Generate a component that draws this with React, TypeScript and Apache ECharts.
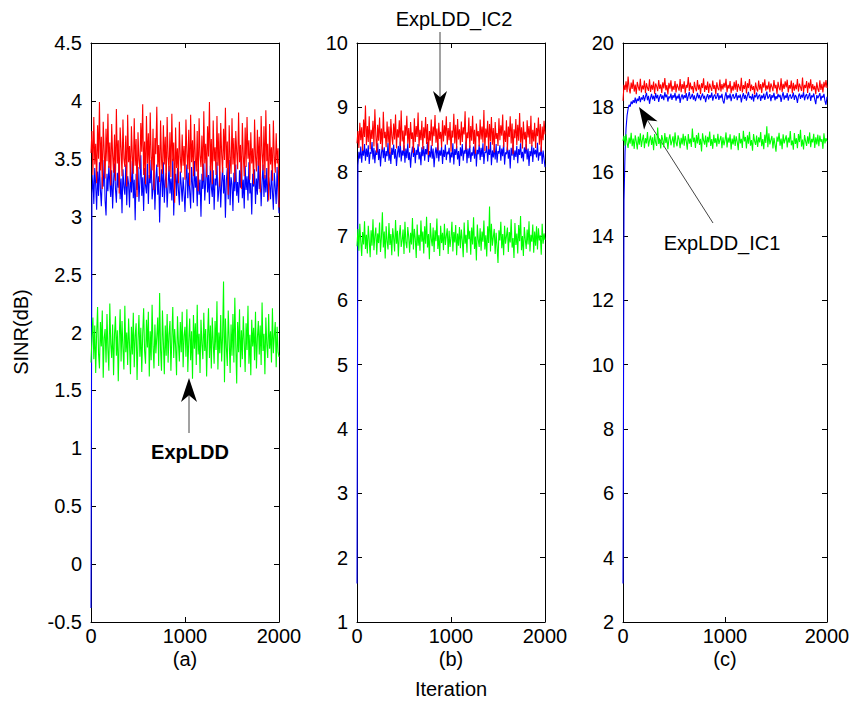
import React, { useEffect, useRef } from 'react';
import * as echarts from 'echarts';

// sampling grid of iterations (every 10 iterations, 0..2000)
const iterations: number[] = Array.from({ length: 201 }, (_, i) => i * 10);

const aBlue = [-0.38,
  3.20, 3.36, 3.11, 3.42, 3.27, 3.06, 3.39, 3.18, 3.47, 3.23,
  3.09, 3.34, 3.26, 3.49, 3.14, 3.01, 3.37, 3.22, 3.44, 3.29,
  3.17, 3.40, 3.07, 3.30, 3.46, 3.24, 3.12, 3.38, 3.25, 3.51,
  3.15, 3.33, 3.03, 3.41, 3.26, 3.19, 3.45, 3.10, 3.35, 3.28,
  3.08, 3.39, 3.21, 3.48, 3.16, 3.32, 2.97, 3.37, 3.23, 3.43,
  3.13, 3.30, 3.53, 3.18, 3.34, 3.05, 3.42, 3.27, 3.20, 3.46,
  3.11, 3.36, 3.29, 3.49, 3.15, 3.24, 3.40, 3.06, 3.32, 3.45,
  3.19, 3.35, 2.95, 3.28, 3.41, 3.17, 3.47, 3.12, 3.31, 3.38,
  3.08, 3.26, 3.44, 3.20, 3.33, 3.14, 3.50, 3.01, 3.29, 3.37,
  3.18, 3.42, 3.23, 3.10, 3.39, 3.27, 3.13, 3.34, 3.21, 3.04,
  3.31, 3.45, 3.16, 3.38, 3.22, 3.07, 3.43, 3.28, 3.12, 3.48,
  3.25, 3.35, 3.09, 3.41, 3.19, 3.32, 3.00, 3.37, 3.24, 3.46,
  3.14, 3.30, 3.51, 3.21, 3.36, 3.11, 3.44, 3.26, 3.17, 3.40,
  3.06, 3.33, 3.27, 3.47, 3.13, 3.23, 3.39, 3.08, 3.29, 3.43,
  3.20, 3.36, 2.99, 3.31, 3.42, 3.15, 3.49, 3.10, 3.34, 3.28,
  3.05, 3.38, 3.22, 3.45, 3.18, 3.30, 3.12, 3.40, 3.25, 3.52,
  3.16, 3.32, 3.07, 3.44, 3.23, 3.35, 3.14, 3.47, 3.20, 3.29,
  3.02, 3.37, 3.26, 3.41, 3.11, 3.33, 3.19, 3.48, 3.24, 3.39,
  3.09, 3.30, 3.45, 3.17, 3.36, 3.21, 3.42, 3.13, 3.34, 3.27,
  3.15, 3.40, 3.22, 3.06, 3.38, 3.25, 3.11, 3.43, 3.19, 3.03];
const aRed = [3.55, 3.74, 3.36, 3.86, 3.45, 3.63, 3.29, 3.79, 3.50, 3.99,
  3.40, 3.69, 3.24, 3.82, 3.57, 3.33, 3.76, 3.48, 3.89, 3.42,
  3.64, 3.27, 3.80, 3.53, 3.38, 3.71, 3.31, 3.93, 3.46, 3.66,
  3.20, 3.77, 3.59, 3.35, 3.84, 3.50, 3.43, 3.70, 3.26, 3.88,
  3.47, 3.61, 3.30, 3.78, 3.52, 3.37, 3.85, 3.44, 3.67, 3.17,
  3.73, 3.49, 3.41, 3.81, 3.56, 3.97, 3.36, 3.65, 3.28, 3.87,
  3.46, 3.72, 3.33, 3.90, 3.51, 3.40, 3.76, 3.23, 3.68, 3.54,
  3.95, 3.43, 3.62, 3.30, 3.83, 3.49, 3.37, 3.79, 3.45, 3.69,
  3.25, 3.86, 3.52, 3.39, 3.73, 3.34, 3.89, 3.48, 3.64, 3.12,
  3.77, 3.42, 3.59, 3.29, 3.82, 3.51, 3.38, 3.71, 3.44, 3.61,
  3.32, 3.84, 3.55, 3.41, 3.75, 3.27, 3.88, 3.47, 3.66, 3.35,
  3.80, 3.50, 3.39, 3.74, 3.22, 3.85, 3.53, 3.43, 3.70, 3.31,
  3.91, 3.46, 3.63, 3.34, 3.78, 3.52, 3.99, 3.40, 3.67, 3.28,
  3.83, 3.48, 3.60, 3.36, 3.87, 3.44, 3.72, 3.26, 3.81, 3.54,
  3.38, 3.76, 3.49, 3.94, 3.42, 3.65, 3.19, 3.79, 3.51, 3.37,
  3.85, 3.45, 3.68, 3.30, 3.74, 3.56, 3.41, 3.90, 3.47, 3.62,
  3.24, 3.81, 3.53, 3.35, 3.77, 3.43, 3.86, 3.50, 3.66, 3.32,
  3.73, 3.46, 3.59, 3.28, 3.84, 3.52, 3.39, 3.75, 3.44, 3.69,
  3.21, 3.87, 3.55, 3.40, 3.78, 3.33, 3.92, 3.48, 3.63, 3.14,
  3.80, 3.45, 3.60, 3.31, 3.83, 3.51, 3.38, 3.72, 3.46, 3.59, 3.08];
const aGreen = [1.74, 1.96, 2.13, 1.77, 2.06, 1.65, 1.99, 2.22, 1.82, 1.69,
  2.09, 1.88, 2.19, 1.61, 1.95, 2.03, 1.74, 2.16, 1.85, 1.67,
  2.25, 1.90, 1.78, 2.07, 1.63, 1.98, 2.14, 1.80, 2.02, 1.58,
  1.94, 2.20, 1.75, 2.10, 1.86, 1.68, 2.23, 1.83, 2.00, 1.72,
  2.12, 1.89, 1.64, 2.05, 1.81, 2.17, 1.70, 1.97, 2.08, 1.59,
  1.93, 2.15, 1.79, 2.04, 1.66, 1.99, 2.21, 1.84, 1.73, 2.11,
  1.87, 2.18, 1.62, 2.01, 1.76, 2.24, 1.88, 1.69, 2.07, 1.82,
  1.96, 2.13, 1.71, 2.34, 1.85, 1.67, 2.19, 1.92, 1.64, 2.06,
  1.80, 2.16, 1.74, 1.98, 2.10, 1.67, 1.95, 2.22, 1.78, 2.03,
  1.88, 1.63, 2.14, 1.91, 1.75, 2.09, 1.83, 2.18, 1.70, 1.97,
  2.05, 1.79, 2.20, 1.66, 1.93, 2.12, 1.76, 2.01, 1.60, 2.15,
  1.86, 2.08, 1.72, 2.24, 1.81, 1.99, 1.65, 2.11, 1.90, 1.77,
  2.17, 1.84, 2.03, 1.62, 1.96, 2.21, 1.78, 2.06, 1.69, 2.13,
  1.91, 1.73, 2.10, 1.85, 2.27, 1.68, 2.00, 1.82, 2.15, 1.75,
  1.97, 2.44, 1.57, 2.12, 1.87, 1.71, 2.19, 1.94, 1.65, 2.07,
  1.80, 2.16, 1.74, 2.30, 1.89, 1.56, 2.09, 1.83, 2.20, 1.70,
  2.02, 1.77, 2.14, 1.92, 1.66, 2.08, 1.85, 2.23, 1.73, 1.98,
  1.63, 2.11, 1.88, 2.04, 1.76, 2.18, 1.69, 1.95, 2.10, 1.81,
  2.06, 1.72, 2.26, 1.84, 1.99, 1.64, 2.13, 1.90, 1.78, 2.16,
  1.86, 2.01, 1.74, 2.21, 1.82, 1.97, 2.09, 1.70, 2.05, 1.83, 1.79];

const bBlue = [1.60,
  8.10, 8.31, 8.20, 8.39, 8.14, 8.34, 8.25, 8.43, 8.17, 8.36,
  8.23, 8.41, 8.12, 8.30, 8.28, 8.46, 8.19, 8.37, 8.13, 8.33,
  8.26, 8.44, 8.18, 8.35, 8.08, 8.29, 8.40, 8.21, 8.38, 8.15,
  8.32, 8.24, 8.45, 8.17, 8.31, 8.12, 8.37, 8.26, 8.42, 8.20,
  8.35, 8.09, 8.27, 8.40, 8.22, 8.47, 8.16, 8.33, 8.25, 8.41,
  8.14, 8.36, 8.21, 8.44, 8.18, 8.30, 8.06, 8.28, 8.39, 8.23,
  8.37, 8.13, 8.34, 8.26, 8.43, 8.19, 8.31, 8.10, 8.38, 8.24,
  8.40, 8.17, 8.35, 8.27, 8.46, 8.15, 8.32, 8.22, 8.41, 8.20,
  8.36, 8.07, 8.28, 8.38, 8.21, 8.45, 8.16, 8.33, 8.25, 8.39,
  8.12, 8.34, 8.23, 8.42, 8.18, 8.31, 8.27, 8.37, 8.14, 8.30,
  8.22, 8.44, 8.11, 8.35, 8.26, 8.40, 8.19, 8.32, 8.09, 8.38,
  8.24, 8.43, 8.17, 8.33, 8.28, 8.47, 8.13, 8.36, 8.21, 8.41,
  8.15, 8.30, 8.25, 8.39, 8.20, 8.45, 8.08, 8.34, 8.27, 8.42,
  8.18, 8.37, 8.23, 8.44, 8.12, 8.31, 8.29, 8.40, 8.16, 8.35,
  8.26, 8.46, 8.10, 8.33, 8.22, 8.38, 8.19, 8.43, 8.14, 8.32,
  8.28, 8.41, 8.17, 8.36, 8.24, 8.45, 8.11, 8.30, 8.27, 8.39,
  8.20, 8.34, 8.05, 8.37, 8.25, 8.42, 8.18, 8.33, 8.23, 8.40,
  8.13, 8.35, 8.26, 8.44, 8.21, 8.31, 8.16, 8.38, 8.28, 8.43,
  8.19, 8.36, 8.09, 8.32, 8.24, 8.41, 8.15, 8.37, 8.27, 8.34,
  8.22, 8.45, 8.17, 8.30, 8.25, 8.39, 8.12, 8.33, 8.20, 8.07];
const bRed = [8.44, 8.63, 8.37, 8.76, 8.49, 8.69, 8.32, 8.81, 8.54, 9.03,
  8.41, 8.71, 8.46, 8.86, 8.35, 8.65, 8.51, 8.79, 8.39, 8.97,
  8.57, 8.30, 8.73, 8.48, 8.84, 8.43, 8.67, 8.34, 8.93, 8.52,
  8.62, 8.38, 8.78, 8.45, 8.70, 8.27, 8.82, 8.55, 8.42, 8.75,
  8.50, 8.89, 8.36, 8.66, 8.53, 8.80, 8.40, 8.95, 8.47, 8.64,
  8.32, 8.72, 8.56, 8.87, 8.44, 8.68, 8.37, 8.77, 8.51, 8.61,
  8.29, 8.83, 8.46, 8.71, 8.54, 8.92, 8.39, 8.65, 8.49, 8.79,
  8.35, 8.69, 8.52, 8.85, 8.43, 8.74, 8.26, 8.63, 8.48, 8.81,
  8.40, 8.70, 8.55, 8.88, 8.45, 8.67, 8.33, 8.76, 8.51, 8.62,
  8.38, 8.80, 8.47, 8.72, 8.56, 8.86, 8.42, 8.68, 8.49, 8.77,
  8.31, 8.64, 8.53, 8.90, 8.44, 8.73, 8.36, 8.82, 8.50, 8.66,
  8.41, 8.78, 8.46, 8.69, 8.58, 8.94, 8.34, 8.61, 8.52, 8.84,
  8.37, 8.71, 8.48, 8.87, 8.43, 8.65, 8.28, 8.75, 8.55, 8.63,
  8.39, 8.81, 8.50, 8.70, 8.45, 8.96, 8.32, 8.67, 8.53, 8.79,
  8.35, 8.74, 8.47, 8.85, 8.42, 8.68, 8.30, 8.77, 8.51, 8.60,
  8.40, 8.83, 8.49, 8.72, 8.56, 8.89, 8.38, 8.64, 8.46, 8.80,
  8.33, 8.70, 8.54, 8.86, 8.44, 8.75, 8.27, 8.66, 8.52, 8.82,
  8.41, 8.73, 8.48, 8.91, 8.45, 8.69, 8.36, 8.78, 8.50, 8.62,
  8.34, 8.80, 8.53, 8.71, 8.43, 8.87, 8.39, 8.65, 8.47, 8.76,
  8.37, 8.68, 8.55, 8.84, 8.42, 8.74, 8.31, 8.70, 8.49, 8.79, 8.58];
const bGreen = [6.84, 7.11, 6.77, 7.19, 6.91, 6.69, 7.06, 6.87, 7.23, 6.80,
  7.02, 6.73, 7.16, 6.94, 6.67, 7.09, 6.85, 7.26, 6.78, 7.00,
  7.13, 6.71, 7.04, 6.89, 7.21, 6.75, 6.98, 7.37, 6.82, 7.07,
  6.65, 7.15, 6.92, 6.79, 7.20, 6.86, 7.03, 6.70, 7.12, 6.97,
  6.76, 7.25, 6.88, 7.08, 6.68, 7.01, 7.17, 6.83, 6.93, 7.10,
  6.72, 7.22, 6.90, 6.81, 7.14, 6.99, 6.74, 7.05, 6.87, 7.28,
  6.79, 7.11, 6.96, 6.66, 7.18, 6.85, 7.02, 6.77, 7.24, 6.91,
  7.07, 6.73, 7.15, 6.88, 7.30, 6.82, 7.03, 6.64, 7.20, 6.96,
  6.84, 7.13, 6.75, 7.09, 6.92, 7.27, 6.80, 7.01, 6.69, 7.16,
  6.89, 7.05, 6.78, 7.19, 6.86, 7.00, 7.12, 6.72, 7.08, 6.83,
  6.97, 7.22, 6.76, 7.06, 6.90, 7.17, 6.70, 7.04, 6.85, 7.14,
  6.81, 7.10, 6.93, 6.67, 7.21, 6.88, 7.02, 6.74, 7.25, 6.95,
  7.08, 6.71, 7.13, 6.87, 7.29, 6.80, 6.99, 6.62, 7.18, 6.94,
  6.83, 7.12, 6.77, 7.07, 6.91, 7.24, 6.79, 7.01, 6.68, 7.15,
  6.89, 7.46, 6.76, 7.19, 6.85, 6.98, 7.11, 6.72, 7.05, 6.84,
  6.58, 7.09, 6.93, 7.22, 6.81, 7.03, 6.70, 7.16, 6.88, 7.00,
  7.13, 6.75, 7.06, 6.90, 7.26, 6.82, 6.97, 6.66, 7.20, 6.86,
  7.04, 6.73, 7.17, 6.92, 7.31, 6.78, 7.00, 6.69, 7.14, 6.95,
  6.80, 7.10, 6.87, 7.23, 6.76, 7.02, 6.91, 7.18, 6.74, 7.07,
  6.85, 7.15, 6.79, 7.12, 6.93, 7.01, 6.71, 7.19, 6.88, 7.04, 6.94];

const cBlue = [3.20, 15.10, 16.60, 17.35, 17.75, 17.95, 18.08, 18.02, 18.18, 18.10,
  18.22, 18.14, 18.30, 18.12, 18.27, 18.20, 18.35, 18.16, 18.31, 18.24,
  18.38, 18.19, 18.33, 18.45, 18.22, 18.36, 18.11, 18.29, 18.42, 18.25,
  18.36, 18.20, 18.44, 18.28, 18.39, 18.17, 18.33, 18.41, 18.26, 18.37,
  18.22, 18.47, 18.31, 18.40, 18.18, 18.34, 18.28, 18.43, 18.23, 18.38,
  18.30, 18.45, 18.21, 18.36, 18.27, 18.42, 18.14, 18.32, 18.40, 18.25,
  18.38, 18.29, 18.44, 18.20, 18.35, 18.48, 18.26, 18.33, 18.42, 18.24,
  18.37, 18.19, 18.31, 18.45, 18.28, 18.39, 18.22, 18.34, 18.43, 18.27,
  18.36, 18.16, 18.32, 18.41, 18.25, 18.38, 18.30, 18.46, 18.21, 18.35,
  18.40, 18.26, 18.33, 18.44, 18.23, 18.37, 18.29, 18.42, 18.20, 18.12,
  18.34, 18.47, 18.24, 18.38, 18.28, 18.43, 18.19, 18.35, 18.41, 18.27,
  18.32, 18.45, 18.22, 18.37, 18.30, 18.40, 18.15, 18.33, 18.44, 18.26,
  18.39, 18.21, 18.36, 18.48, 18.29, 18.34, 18.24, 18.42, 18.18, 18.38,
  18.31, 18.46, 18.25, 18.35, 18.40, 18.20, 18.37, 18.28, 18.43, 18.23,
  18.36, 18.49, 18.27, 18.33, 18.41, 18.19, 18.38, 18.30, 18.45, 18.22,
  18.35, 18.26, 18.42, 18.31, 18.39, 18.17, 18.34, 18.47, 18.24, 18.37,
  18.29, 18.44, 18.21, 18.36, 18.40, 18.27, 18.33, 18.46, 18.23, 18.38,
  18.32, 18.14, 18.35, 18.43, 18.26, 18.39, 18.30, 18.48, 18.22, 18.36,
  18.41, 18.25, 18.34, 18.45, 18.20, 18.37, 18.31, 18.43, 18.24, 18.10,
  18.38, 18.28, 18.35, 18.44, 18.21, 18.36, 18.30, 18.42, 18.19, 18.08, 18.33];
const cRed = [18.20, 18.70, 18.54, 18.81, 18.47, 18.96, 18.60, 18.43, 18.77, 18.57,
  18.86, 18.49, 18.71, 18.41, 18.79, 18.63, 18.52, 18.89, 18.46, 18.68,
  18.56, 18.83, 18.44, 18.75, 18.60, 18.51, 18.87, 18.48, 18.70, 18.55,
  18.80, 18.42, 18.74, 18.65, 18.50, 18.85, 18.57, 18.71, 18.45, 18.78,
  18.59, 18.91, 18.53, 18.69, 18.40, 18.76, 18.58, 18.84, 18.49, 18.67,
  18.54, 18.82, 18.46, 18.73, 18.62, 18.52, 18.88, 18.47, 18.72, 18.57,
  18.81, 18.43, 18.70, 18.61, 18.94, 18.51, 18.77, 18.56, 18.66, 18.44,
  18.79, 18.59, 18.50, 18.85, 18.55, 18.71, 18.42, 18.75, 18.60, 18.90,
  18.48, 18.68, 18.54, 18.80, 18.45, 18.74, 18.62, 18.51, 18.83, 18.57,
  18.69, 18.41, 18.78, 18.59, 18.53, 18.86, 18.49, 18.72, 18.56, 18.76,
  18.61, 18.89, 18.47, 18.70, 18.58, 18.82, 18.44, 18.67, 18.52, 18.79,
  18.55, 18.84, 18.48, 18.73, 18.63, 18.51, 18.92, 18.46, 18.69, 18.57,
  18.81, 18.43, 18.75, 18.60, 18.88, 18.50, 18.71, 18.54, 18.66, 18.40,
  18.77, 18.58, 18.49, 18.83, 18.55, 18.72, 18.45, 18.78, 18.61, 18.87,
  18.52, 18.68, 18.56, 18.80, 18.47, 18.74, 18.64, 18.50, 18.85, 18.59,
  18.70, 18.42, 18.79, 18.61, 18.53, 18.90, 18.48, 18.73, 18.57, 18.81,
  18.62, 18.86, 18.46, 18.69, 18.58, 18.83, 18.44, 18.76, 18.52, 18.71,
  18.56, 18.88, 18.49, 18.74, 18.63, 18.51, 18.93, 18.47, 18.70, 18.60,
  18.82, 18.45, 18.77, 18.59, 18.87, 18.50, 18.72, 18.55, 18.67, 18.41,
  18.78, 18.57, 18.48, 18.84, 18.54, 18.73, 18.46, 18.79, 18.62, 18.85, 18.60];
const cGreen = [16.96, 17.11, 16.81, 17.16, 16.89, 16.74, 17.06, 16.87, 17.21, 16.79,
  17.03, 16.71, 17.13, 16.94, 16.69, 17.09, 16.84, 17.19, 16.77, 16.99,
  17.15, 16.73, 17.04, 16.88, 17.23, 16.78, 16.97, 17.12, 16.83, 17.07,
  16.67, 17.17, 16.91, 16.80, 17.37, 16.86, 17.02, 16.72, 17.14, 16.98,
  16.76, 17.20, 16.89, 17.08, 16.70, 17.01, 17.16, 16.82, 16.95, 17.10,
  16.75, 17.22, 16.90, 16.79, 17.13, 17.00, 16.73, 17.05, 16.85, 17.18,
  16.81, 17.11, 16.96, 16.68, 17.17, 16.87, 17.03, 16.77, 17.34, 16.92,
  17.06, 16.74, 17.14, 16.88, 17.21, 16.83, 17.02, 16.63, 17.19, 16.97,
  16.84, 17.12, 16.76, 17.08, 16.91, 17.25, 16.80, 17.01, 16.71, 17.15,
  16.89, 17.04, 16.78, 17.18, 16.86, 16.99, 17.11, 16.73, 17.07, 16.82,
  16.97, 17.22, 16.75, 17.06, 16.90, 17.16, 16.69, 17.03, 16.85, 17.13,
  16.80, 17.10, 16.93, 16.67, 17.20, 16.88, 17.02, 16.74, 17.27, 16.94,
  17.08, 16.72, 17.13, 16.87, 17.24, 16.81, 16.98, 16.65, 17.17, 16.95,
  16.83, 17.12, 16.77, 17.07, 16.91, 17.23, 16.79, 17.01, 16.70, 17.15,
  16.89, 17.41, 16.76, 17.19, 16.85, 16.98, 17.11, 16.72, 17.05, 16.84,
  16.62, 17.09, 16.93, 17.21, 16.81, 17.03, 16.70, 17.16, 16.88, 17.00,
  17.13, 16.75, 17.06, 16.90, 17.26, 16.82, 16.97, 16.68, 17.20, 16.86,
  17.04, 16.73, 17.17, 16.92, 17.30, 16.78, 17.00, 16.69, 17.14, 16.95,
  16.80, 17.10, 16.87, 17.22, 16.76, 17.02, 16.91, 17.18, 16.74, 17.07,
  16.85, 17.15, 16.79, 17.12, 16.93, 17.01, 16.71, 17.19, 16.88, 17.04, 16.94];

const panelLabels = ['(a)', '(b)', '(c)'];
const yRanges = [
  { min: -0.5, max: 4.5, interval: 0.5 },
  { min: 1, max: 10, interval: 1 },
  { min: 2, max: 20, interval: 2 },
];
const xTicks = { min: 0, max: 2000, interval: 1000 };

const FONT = 'Liberation Sans, Arial, sans-serif';

function arrow(tail: number[], tip: number[], len = 22, half = 7.5) {
  const dx = tip[0] - tail[0];
  const dy = tip[1] - tail[1];
  const d = Math.sqrt(dx * dx + dy * dy);
  const ux = dx / d, uy = dy / d;
  const nx = -uy, ny = ux;
  const bx = tip[0] - ux * len, by = tip[1] - uy * len;
  const mx = tip[0] - ux * len * 0.72, my = tip[1] - uy * len * 0.72;
  return [
    { type: 'line', silent: true, shape: { x1: tail[0], y1: tail[1], x2: mx, y2: my }, style: { stroke: '#444', lineWidth: 1 } },
    {
      type: 'polygon', silent: true,
      shape: { points: [[tip[0], tip[1]], [bx + nx * half, by + ny * half], [mx, my], [bx - nx * half, by - ny * half]] },
      style: { fill: '#000' },
    },
  ];
}

export default function App() {
  const ref = useRef<HTMLDivElement>(null);
  useEffect(() => {
    if (!ref.current) return;
    const chart = echarts.init(ref.current, undefined, { renderer: 'svg' });
    const grids = [
      { left: 91, top: 43, width: 188, height: 579 },
      { left: 357, top: 43, width: 188, height: 579 },
      { left: 623, top: 43, width: 204, height: 579 },
    ];
    const panels = [
      [aBlue, aRed, aGreen],
      [bBlue, bRed, bGreen],
      [cBlue, cRed, cGreen],
    ];
    const colors = ['#0000ff', '#ff0000', '#00ff00'];
    const xAxis: any[] = [];
    const yAxis: any[] = [];
    const series: any[] = [];
    const axisLine = { show: true, onZero: false, lineStyle: { color: '#000', width: 1 } };
    const tick = { show: true, inside: true, length: 5, lineStyle: { color: '#000', width: 1 } };
    grids.forEach((g, i) => {
      xAxis.push({
        type: 'value', gridIndex: i, position: 'bottom', ...xTicks,
        axisLine, axisTick: tick, splitLine: { show: false },
        axisLabel: { color: '#000', fontSize: 20, fontFamily: FONT, margin: 4, formatter: (v: number) => String(v) },
      });
      xAxis.push({
        type: 'value', gridIndex: i, position: 'top', ...xTicks,
        axisLine, axisTick: tick, splitLine: { show: false }, axisLabel: { show: false },
      });
      yAxis.push({
        type: 'value', gridIndex: i, position: 'left', ...yRanges[i],
        axisLine, axisTick: tick, splitLine: { show: false },
        axisLabel: { color: '#000', fontSize: 20, fontFamily: FONT, margin: 9 },
      });
      yAxis.push({
        type: 'value', gridIndex: i, position: 'right', ...yRanges[i],
        axisLine, axisTick: tick, splitLine: { show: false }, axisLabel: { show: false },
      });
      panels[i].forEach((vals, k) => {
        series.push({
          type: 'line', xAxisIndex: i * 2, yAxisIndex: i * 2,
          data: vals.map((v, j) => [iterations[j], v]),
          showSymbol: false, symbol: 'none', silent: true,
          lineStyle: { color: colors[k], width: 1.1 },
          itemStyle: { color: colors[k] },
          z: 2 + k,
        });
      });
    });

    const textStyle = (size: number, weight: string = 'normal') => ({
      fill: '#000', fontSize: size, fontFamily: FONT, fontWeight: weight,
      textAlign: 'center', textVerticalAlign: 'middle', align: 'center', verticalAlign: 'middle',
    });
    const centers = [185, 451, 725];
    const graphic: any[] = [
      ...panelLabels.map((t, i) => ({ type: 'text', x: centers[i], y: 659, silent: true, style: { text: t, ...textStyle(20) } })),
      { type: 'text', x: 451, y: 689, silent: true, style: { text: 'Iteration', ...textStyle(20) } },
      { type: 'text', x: 21, y: 332, rotation: Math.PI / 2, silent: true, style: { text: 'SINR(dB)', ...textStyle(20) } },
      { type: 'text', x: 190, y: 452, silent: true, style: { text: 'ExpLDD', ...textStyle(20, 'bold') } },
      { type: 'text', x: 454, y: 19, silent: true, style: { text: 'ExpLDD_IC2', ...textStyle(20) } },
      { type: 'text', x: 722, y: 243, silent: true, style: { text: 'ExpLDD_IC1', ...textStyle(20) } },
      ...arrow([189, 433], [189, 378], 24, 8),
      ...arrow([440, 32], [440, 113], 22, 7),
      ...arrow([713, 223], [639, 107], 22, 8),
    ];

    chart.setOption({
      animation: false,
      backgroundColor: '#fff',
      grid: grids.map(g => ({ ...g, containLabel: false })),
      xAxis, yAxis, series, graphic,
    });
    return () => chart.dispose();
  }, []);
  return <div ref={ref} style={{ position: 'absolute', left: 0, top: 0, width: 856, height: 703 }} />;
}
